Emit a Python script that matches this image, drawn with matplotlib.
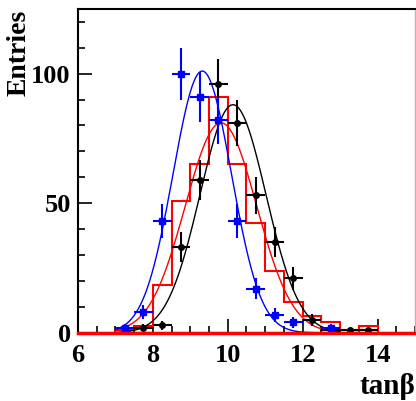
import numpy as np
import matplotlib
matplotlib.use("Agg")
import matplotlib.pyplot as plt
from matplotlib.ticker import MultipleLocator

plt.rcParams['font.family'] = ['Liberation Serif', 'DejaVu Serif']
plt.rcParams['font.weight'] = 'bold'

# bin centres (width 0.5) for the two point samples
blue_x = [7.25, 7.75, 8.25, 8.75, 9.25, 9.75, 10.25, 10.75, 11.25, 11.75, 12.75]
blue_y = [2, 8, 43, 100, 91, 82, 43, 17, 7, 4, 2]

black_x = [7.75, 8.25, 8.75, 9.25, 9.75, 10.25, 10.75, 11.25, 11.75, 12.25, 12.75, 13.25, 13.75]
black_y = [2, 3, 33, 59, 96, 81, 53, 35, 21, 5, 1, 1, 1]

# red reference histogram
red_edges = [7.0, 7.5, 8.0, 8.5, 9.0, 9.5, 10.0, 10.5, 11.0, 11.5, 12.0, 12.5, 13.0, 13.5, 14.0]
red_counts = [1, 2.5, 18.5, 51, 65, 91, 65, 42.5, 24, 12, 6.5, 4.2, 0, 2.5]

# gaussian fit parameters: (amplitude, mean, sigma)
blue_fit = (101, 9.32, 0.78)
black_fit = (88, 10.14, 0.88)
red_fit = (81, 9.82, 0.95)
fit_range = (7.0, 13.0)


def gaus(x, amp, mean, sigma):
    return amp * np.exp(-0.5 * ((x - mean) / sigma) ** 2)


fig = plt.figure(figsize=(4.16, 4.01), dpi=100)
ax = fig.add_axes([0.187, 0.170, 0.811, 0.808])

xf = np.linspace(fit_range[0], fit_range[1], 400)

ax.stairs(red_counts, red_edges, color='red', lw=1.5, zorder=3)
ax.plot(xf, gaus(xf, *red_fit), color='red', lw=1.0, zorder=3)
ax.plot(xf, gaus(xf, *black_fit), color='black', lw=1.0, zorder=4)
ax.plot(xf, gaus(xf, *blue_fit), color='blue', lw=1.0, zorder=4)

ax.errorbar(black_x, black_y, yerr=np.sqrt(black_y), xerr=0.25, fmt='o',
            color='black', ms=4, lw=1.5, capsize=0, zorder=5)
ax.errorbar(blue_x, blue_y, yerr=np.sqrt(blue_y), xerr=0.25, fmt='s',
            color='blue', ms=5, lw=1.5, capsize=0, zorder=5)

ax.axhline(0, color='red', lw=2.5, zorder=6, clip_on=False)

ax.set_xlim(6, 15)
ax.set_ylim(0, 125)
ax.xaxis.set_major_locator(MultipleLocator(2))
ax.xaxis.set_minor_locator(MultipleLocator(0.5))
ax.yaxis.set_major_locator(MultipleLocator(50))
ax.yaxis.set_minor_locator(MultipleLocator(10))
ax.tick_params(which='both', direction='in', top=False, right=False,
               labelsize=19, width=1.2)
ax.tick_params(which='major', length=10, pad=5)
ax.tick_params(axis='x', which='major', pad=8)
ax.tick_params(which='minor', length=5)
for lab in ax.get_xticklabels() + ax.get_yticklabels():
    lab.set_fontweight('bold')

for side in ('left', 'top', 'bottom'):
    ax.spines[side].set_linewidth(1.5)
ax.spines['right'].set_color('#ff9999')
ax.spines['right'].set_linewidth(1.0)

fig.text(0.045, 0.975, 'Entries', rotation=90, ha='center', va='top',
         fontsize=20, fontweight='bold')
fig.text(0.998, 0.037, 'tan\u03b2', ha='right', va='center',
         fontsize=21, fontweight='bold')

fig.savefig('out.png', dpi=100)
